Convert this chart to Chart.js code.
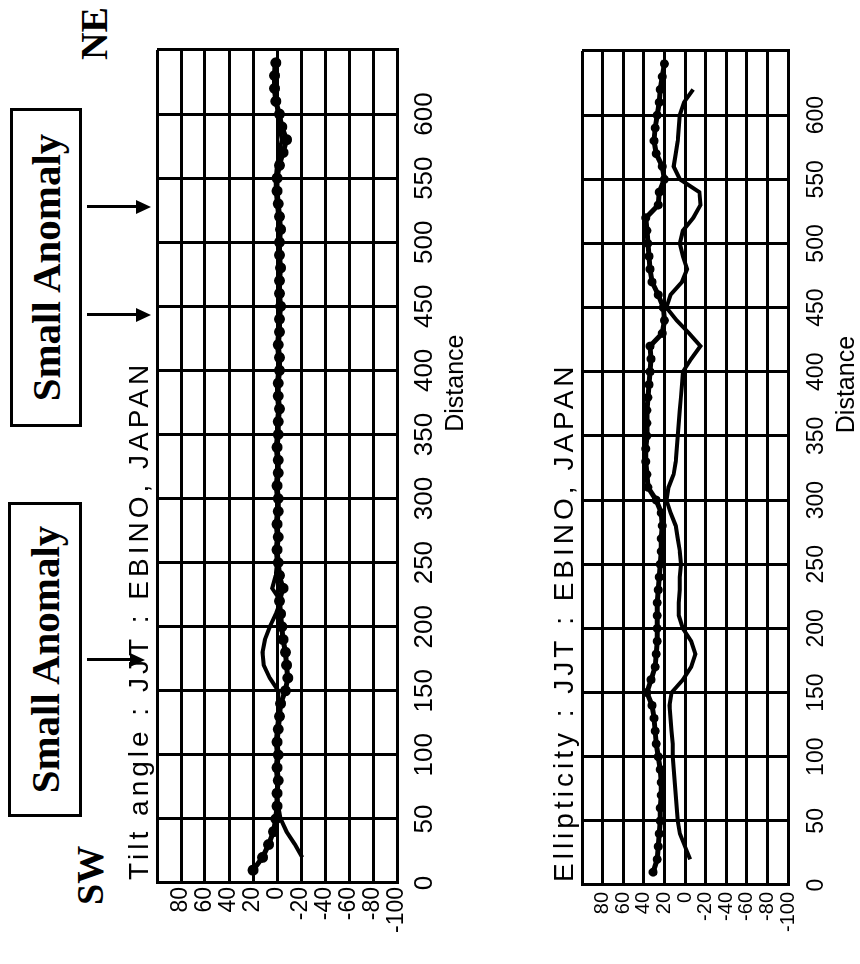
<!DOCTYPE html>
<html>
<head>
<meta charset="utf-8">
<script src="https://cdn.jsdelivr.net/npm/chart.js@4.4.1/dist/chart.umd.min.js"></script>
<style>
  html, body { margin: 0; padding: 0; background: #fff; width: 860px; height: 964px; overflow: hidden; }
  /* whole figure is laid out upright, then turned on its side like the scan */
  #stage { position: absolute; left: -52px; top: 52px; width: 964px; height: 860px; transform: rotate(-90deg); background: #fff; }
  .plot { position: absolute; left: 0; width: 964px; height: 380px; }
  .note { position: absolute; font-family: "Liberation Serif", "Times New Roman", serif; font-weight: bold; color: #000; line-height: 1; white-space: nowrap; }
  .box { position: absolute; box-sizing: border-box; border: 3px solid #000; display: flex; align-items: center; justify-content: center; font-size: 41px; }
  .arrow { position: absolute; width: 3px; background: #000; }
  .arrow::after { content: ''; position: absolute; left: -6px; bottom: -15px; border-left: 7.5px solid transparent; border-right: 7.5px solid transparent; border-top: 15px solid #000; }
</style>
</head>
<body>
<div id="stage">
  <div class="note" style="left:59px; top:71px; font-size:38px;">SW</div>
  <div class="note" style="left:904px; top:75px; font-size:38px;">NE</div>
  <div class="note box" style="left:147px; top:8px; width:315px; height:74px;">Small Anomaly</div>
  <div class="note box" style="left:537px; top:10px; width:319px; height:72px;">Small Anomaly</div>
  <div class="arrow" style="left:303px; top:87px; height:43px;"></div>
  <div class="arrow" style="left:648px; top:87px; height:49px;"></div>
  <div class="arrow" style="left:756px; top:87px; height:49px;"></div>
  <div class="plot" style="top:100px;"><canvas id="tiltCanvas" width="964" height="380"></canvas></div>
  <div class="plot" style="top:500px;"><canvas id="ellipCanvas" width="964" height="380"></canvas></div>
</div>
<script>
// Tilt angle (deg) along the profile
const tiltDotDist = [10,20,30,40,50,60,70,80,90,100,110,120,130,140,150,160,170,180,190,200,210,220,230,240,250,260,270,280,290,300,310,320,330,340,350,360,370,380,390,400,410,420,430,440,450,460,470,480,490,500,510,520,530,540,550,560,570,580,590,600,610,620,630,640];
const tiltDots = [20,12,7,3,1,0,0,-1,0,-1, 0,-1,-2,-3,-7,-9,-8,-7,-5,-4, -3,-2,-5,-2,-1,0,-1,0,-1,-1, 0,-1,-1,0,-1,-1,-2,-1,-1,-2, -2,-1,-2,-2,-3,-2,-2,-3,-2,-2, -3,-2,-1,0,0,-2,-5,-8,-4,-2, 1,2,2,1];
const tiltLineDist = [20,30,40,50,60,70,80,90,100,110,120,130,140,150,160,170,180,190,200,210,220,230,240,250,260,270,280,290,300,310,320,330,340,350,360,370,380,390,400,410,420,430,440,450,460,470,480,490,500,510,520,530,540,550,560,570,580,590,600,610,620,630,640];
const tiltLine = [-21,-15,-8,-3,-1,0,0,1,0,1, 0,-1,-1,-1,6,11,12,10,6,1, -3,4,1,0,1,0,1,0,0,1, 0,0,1,0,0,-1,0,0,-1,-1, 0,-1,-1,-2,-1,-1,-2,-1,-1,-2, -1,0,1,1,0,-2,-4,-2,-1,1, 2,2,2];

// Ellipticity (%) along the profile
const ellipDotDist = tiltDotDist.slice();
const ellipDots = [31,27,26,25,24,24,23,23,24,26, 28,29,30,32,37,33,29,28,27,27, 27,27,26,25,24,23,23,22,23,28, 36,37,38,38,37,37,37,36,35,34, 33,34,22,20,21,26,32,34,35,36, 37,38,26,25,20,22,28,30,29,27, 25,24,22,20];
const ellipLineDist = [20,30,40,50,60,70,80,90,100,110,120,130,140,150,160,170,180,190,200,210,220,230,240,250,260,270,280,290,300,310,320,330,340,350,360,370,380,390,400,410,420,430,440,450,460,470,480,490,500,510,520,530,540,550,560,570,580,590,600,610,620];
const ellipLine = [-5,0,5,7,8,9,10,11,12,12, 13,14,15,13,2,-6,-10,-6,2,6, 6,5,5,4,5,7,9,14,18,16, 11,9,8,7,6,5,4,3,2,-6, -15,-4,8,18,14,3,-2,2,5,2, -8,-15,-14,5,11,9,7,6,5,1, -8];

const FONT = '"Liberation Sans", Arial, sans-serif';

const pairs = (xs, ys) => xs.map((x, i) => ({ x: x, y: ys[i] }));

// chart title and the off-centre "Distance" caption, as in the printout
const captionPlugin = {
    id: 'caption',
    afterDraw(chart, args, opts) {
        const { ctx, chartArea } = chart;
        ctx.save();
        ctx.fillStyle = '#000';
        ctx.textBaseline = 'alphabetic';
        ctx.font = `28px ${FONT}`;
        ctx.letterSpacing = '4px';
        ctx.textAlign = 'left';
        ctx.fillText(opts.title, chartArea.left + 3, chartArea.top - 9);
        ctx.letterSpacing = '0px';
        ctx.font = `25px ${FONT}`;
        ctx.textAlign = 'center';
        ctx.fillText('Distance', chartArea.left + chartArea.width * 0.6, chartArea.bottom + 66);
        ctx.restore();
    }
};

function buildChart(id, o) {
    return new Chart(document.getElementById(id), {
        type: 'line',
        data: {
            datasets: [
                {
                    data: pairs(o.dotDist, o.dotVals),
                    borderColor: '#000', backgroundColor: '#000',
                    borderWidth: 5, tension: 0,
                    pointRadius: o.dotRadius, pointBorderWidth: 0, pointBackgroundColor: '#000'
                },
                {
                    data: pairs(o.lineDist, o.lineVals),
                    borderColor: '#000', borderWidth: 4, tension: 0, pointRadius: 0
                }
            ]
        },
        options: {
            responsive: false,
            animation: false,
            events: [],
            layout: { padding: o.pad },
            plugins: {
                legend: { display: false },
                tooltip: { enabled: false },
                caption: { title: o.title }
            },
            scales: {
                x: {
                    type: 'linear', min: 0, max: 650,
                    ticks: {
                        stepSize: 50, autoSkip: false, maxRotation: 0, padding: o.xPad,
                        color: '#000', font: { family: FONT, size: o.xFont },
                        callback: v => v === 650 ? '' : String(v)
                    },
                    grid: { color: '#000', lineWidth: 3, drawTicks: false },
                    border: { color: '#000', width: 3 },
                    afterFit: s => { s.height = o.xHeight; }
                },
                y: {
                    min: -100, max: 100,
                    ticks: {
                        stepSize: 20, autoSkip: false, padding: o.yPad,
                        color: '#000', font: { family: FONT, size: o.yFont },
                        callback: v => v === 100 ? '' : String(v)
                    },
                    grid: { color: '#000', lineWidth: 3, drawTicks: false },
                    border: { color: '#000', width: 3 },
                    afterFit: s => { s.width = o.yWidth; }
                }
            }
        },
        plugins: [captionPlugin]
    });
}

buildChart('tiltCanvas', {
    title: 'Tilt angle : JJT : EBINO, JAPAN',
    dotDist: tiltDotDist, dotVals: tiltDots,
    lineDist: tiltLineDist, lineVals: tiltLine,
    dotRadius: 5.5,
    pad: { left: 0, right: 50, top: 57, bottom: 0 },
    xHeight: 83, yWidth: 81,
    xPad: 12, yPad: 4, xFont: 26, yFont: 23
});

buildChart('ellipCanvas', {
    title: 'Ellipticity : JJT : EBINO, JAPAN',
    dotDist: ellipDotDist, dotVals: ellipDots,
    lineDist: ellipLineDist, lineVals: ellipLine,
    dotRadius: 4.5,
    pad: { left: 0, right: 51, top: 82, bottom: 0 },
    xHeight: 92, yWidth: 79,
    xPad: 15, yPad: 7, xFont: 23, yFont: 20
});
</script>
</body>
</html>
